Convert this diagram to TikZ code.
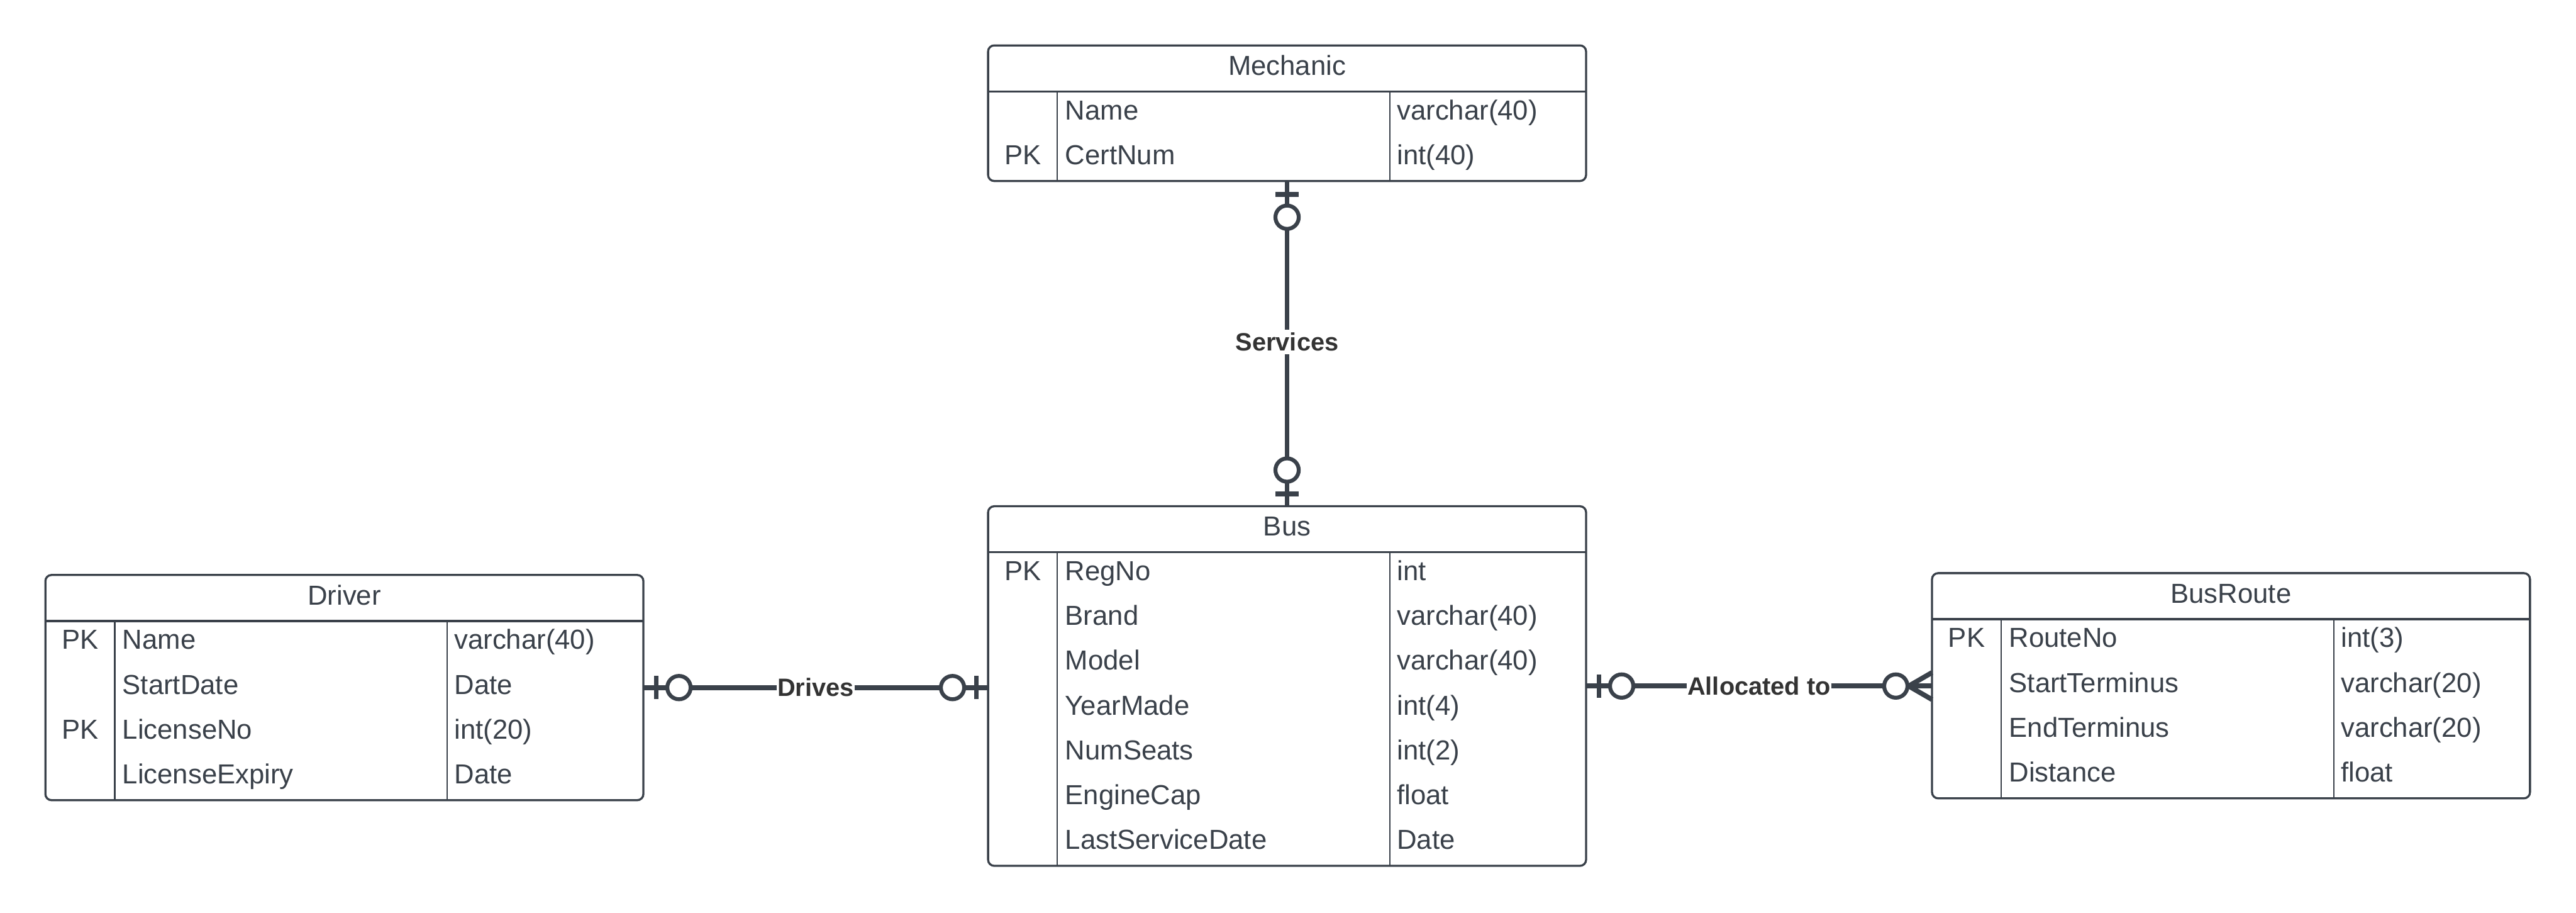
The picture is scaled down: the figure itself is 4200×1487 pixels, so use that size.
\documentclass[tikz,border=0pt]{standalone}
\usepackage{fontspec}
\setmainfont{Liberation Sans}
\usetikzlibrary{calc}
\definecolor{ln}{HTML}{3A414A}
\definecolor{lbl}{HTML}{333333}
\newcommand\mktable[6]{% name, left, top, title, nrows, rows
  \pgfmathsetmacro\tblHpx{75+73*#5}
  \pgfmathsetmacro\tblHpt{\tblHpx*0.25}
  \node[tbl, minimum height=\tblHpt pt] (#1) at (#2,#3) {};
  \draw[hdrline] (#2,#3+75) -- (#2+975,#3+75);
  \draw[colline] (#2+113,#3+75) -- (#2+113,#3+\tblHpx);
  \draw[colline] (#2+655,#3+75) -- (#2+655,#3+\tblHpx);
  \node[ttl] (#1-title) at (#2+487.5,#3+48.5) {#4};
  \foreach \pk/\nm/\ty [count=\i] in {#6} {
    \pgfmathsetmacro\yy{#3+75+73*(\i-0.5)+9.5}
    \node[pkcell] (#1-pk\i) at (#2+56.5,\yy) {\pk};
    \node[cell] (#1-nm\i) at (#2+125,\yy) {\nm};
    \node[cell] (#1-ty\i) at (#2+666,\yy) {\ty};
  }
}
\begin{document}
\begin{tikzpicture}[x=0.25pt,y=-0.25pt,
  tbl/.style={draw=ln, line width=0.85pt, rounded corners=2.5pt, rectangle, inner sep=0pt, outer sep=0pt, anchor=north west, minimum width=243.75pt},
  hdrline/.style={draw=ln, line width=0.85pt},
  colline/.style={draw=ln, line width=0.6pt},
  ttl/.style={font=\fontsize{11.2pt}{13pt}\selectfont, text=ln, anchor=base, inner sep=0pt},
  cell/.style={font=\fontsize{11.2pt}{13pt}\selectfont, text=ln, anchor=base west, inner sep=0pt},
  pkcell/.style={cell, anchor=base},
  conn/.style={draw=ln, line width=2pt},
  ring/.style={draw=ln, line width=1.6pt, fill=white},
  rel/.style={font=\bfseries\fontsize{10.2pt}{12pt}\selectfont, text=lbl, fill=white, inner xsep=0pt, inner ysep=1pt}
]
\useasboundingbox[fill=white] (0,0) rectangle (4200,1487);

\mktable{mech}{1611}{74}{Mechanic}{2}{{}/{Name}/{varchar(40)}, {PK}/{CertNum}/{int(40)}}
\mktable{bus}{1611}{825}{Bus}{7}{{PK}/{RegNo}/{int}, {}/{Brand}/{varchar(40)}, {}/{Model}/{varchar(40)}, {}/{YearMade}/{int(4)}, {}/{NumSeats}/{int(2)}, {}/{EngineCap}/{float}, {}/{LastServiceDate}/{Date}}
\mktable{drv}{74}{937}{Driver}{4}{{PK}/{Name}/{varchar(40)}, {}/{StartDate}/{Date}, {PK}/{LicenseNo}/{int(20)}, {}/{LicenseExpiry}/{Date}}
\mktable{route}{3150}{934}{BusRoute}{4}{{PK}/{RouteNo}/{int(3)}, {}/{StartTerminus}/{varchar(20)}, {}/{EndTerminus}/{varchar(20)}, {}/{Distance}/{float}}

% Services
\node[rel] (sv) at ($(mech.south)!0.495!(bus.north)$) {Services};
\draw[conn] (mech.south) -- (sv.north);
\draw[conn] (sv.south) -- (bus.north);
\draw[conn] ($(mech.south)+(-19,22)$) -- ($(mech.south)+(19,22)$);
\draw[ring] ($(mech.south)+(0,59)$) circle[radius=4.75pt];
\draw[conn] ($(bus.north)+(-19,-20)$) -- ($(bus.north)+(19,-20)$);
\draw[ring] ($(bus.north)+(0,-59)$) circle[radius=4.75pt];

% Drives
\coordinate (busL) at (bus.west |- drv.east);
\node[rel] (dv) at ($(drv.east)!0.5!(busL)$) {Drives};
\draw[conn] (drv.east) -- (dv.west);
\draw[conn] (dv.east) -- (busL);
\draw[conn] ($(drv.east)+(21,-19)$) -- ($(drv.east)+(21,19)$);
\draw[ring] ($(drv.east)+(58,0)$) circle[radius=4.75pt];
\draw[conn] ($(busL)+(-19,-19)$) -- ($(busL)+(-19,19)$);
\draw[ring] ($(busL)+(-58,0)$) circle[radius=4.75pt];

% Allocated to
\coordinate (routeL) at (route.west |- bus.east);
\node[rel] (al) at ($(bus.east)!0.5!(routeL)$) {Allocated to};
\draw[conn] (bus.east) -- (al.west);
\draw[conn] (al.east) -- (routeL);
\draw[conn] ($(bus.east)+(21,-19)$) -- ($(bus.east)+(21,19)$);
\draw[ring] ($(bus.east)+(58,0)$) circle[radius=4.75pt];
\draw[conn] ($(routeL)+(-38,0)$) -- ($(routeL)+(0,-22)$);
\draw[conn] ($(routeL)+(-38,0)$) -- ($(routeL)+(0,22)$);
\draw[ring] ($(routeL)+(-59,0)$) circle[radius=4.75pt];
\end{tikzpicture}
\end{document}
